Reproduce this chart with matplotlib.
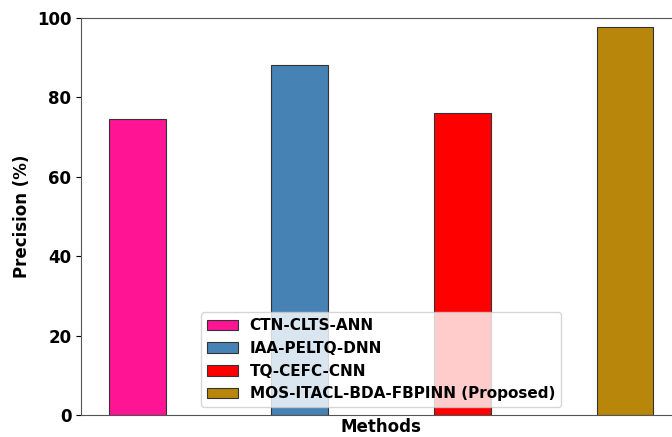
import matplotlib
matplotlib.use('Agg')
import matplotlib.pyplot as plt

methods = ["CTN-CLTS-ANN", "IAA-PELTQ-DNN", "TQ-CEFC-CNN", "MOS-ITACL-BDA-FBPINN (Proposed)"]
precision = [74.6, 88.2, 76.1, 97.7]
colors = ["#FF1493", "#4682B4", "#FF0000", "#B8860B"]

fig = plt.figure(figsize=(6.72, 4.37), dpi=100)
# axes run slightly past the right edge of the canvas
ax = fig.add_axes([0.1205, 0.0503, 0.893, 0.9085])

for i, (name, val, c) in enumerate(zip(methods, precision, colors)):
    ax.bar(i, val, width=0.35, color=c, edgecolor="#333333", linewidth=0.8, label=name)

ax.set_xlim(-0.345, 3.345)
ax.set_ylim(0, 100)
ax.set_yticks([0, 20, 40, 60, 80, 100])
ax.set_xticks([])
ax.tick_params(axis='y', labelsize=12)
for lbl in ax.get_yticklabels():
    lbl.set_fontweight('bold')
ax.set_ylabel("Precision (%)", fontsize=12, fontweight='bold')
ax.set_xlabel("Methods", fontsize=12, fontweight='bold', labelpad=2)
for s in ax.spines.values():
    s.set_color("#555555")

ax.legend(loc='lower center', prop={'weight': 'bold', 'size': 11})

plt.savefig("out.png", dpi=100)
plt.close()
